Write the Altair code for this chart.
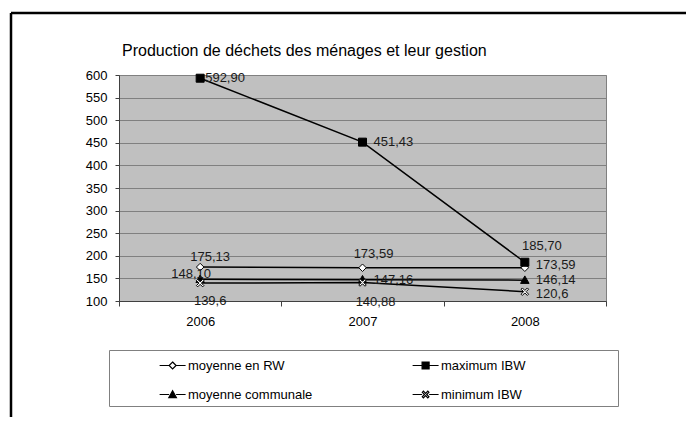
import altair as alt
import pandas as pd

# ---------------- data ----------------
annees = ["2006", "2007", "2008"]
series = ["moyenne en RW", "maximum IBW", "moyenne communale", "minimum IBW"]
moyenne_rw = [175.13, 173.59, 173.59]
maximum_ibw = [592.90, 451.43, 185.70]
moyenne_communale = [148.10, 147.16, 146.14]
minimum_ibw = [139.6, 140.88, 120.6]
etiq_rw = ["175,13", "173,59", "173,59"]
etiq_max = ["592,90", "451,43", "185,70"]
etiq_comm = ["148,10", "147,16", "146,14"]
etiq_min = ["139,6", "140,88", "120,6"]
graduations_y = [100, 150, 200, 250, 300, 350, 400, 450, 500, 550, 600]
titre = "Production de déchets des ménages et leur gestion"

# legend order (filled column by column)
ordre_legende = ["moyenne en RW", "moyenne communale", "maximum IBW", "minimum IBW"]

# ---------------- label placement (style) ----------------
pos_rw = ["h1", "h2", "du"]
pos_max = ["d5", "d", "h3"]
pos_comm = ["g", "d", "dm"]
pos_min = ["b1", "b2", "dd"]
placements = {
    "d": (11, 0, "left"),
    "du": (11, -3, "left"),
    "dm": (11, -0.5, "left"),
    "dd": (11, 2, "left"),
    "d5": (5, 0, "left"),
    "h1": (10, -10, "center"),
    "h2": (11, -14, "center"),
    "h3": (17, -16, "center"),
    "g": (-9, -5, "center"),
    "b1": (10, 18, "center"),
    "b2": (13, 19, "center"),
}

valeurs = dict(zip(series, [moyenne_rw, maximum_ibw, moyenne_communale, minimum_ibw]))
etiquettes = dict(zip(series, [etiq_rw, etiq_max, etiq_comm, etiq_min]))
positions = dict(zip(series, [pos_rw, pos_max, pos_comm, pos_min]))

rows = []
for s in series:
    for i, a in enumerate(annees):
        rows.append({"serie": s, "annee": a, "valeur": valeurs[s][i],
                     "etiquette": etiquettes[s][i], "pos": positions[s][i]})
df = pd.DataFrame(rows)

FONT = "Liberation Sans"


def x_cross(a, t):
    return (f"M{-a},{-a+t}L{-a+t},{-a}L0,{-t}L{a-t},{-a}L{a},{-a+t}L{t},0"
            f"L{a},{a-t}L{a-t},{a}L0,{t}L{-a+t},{a}L{-a},{a-t}L{-t},0Z")


# marker shapes (chart)
marker_path = {
    "moyenne en RW": "M0,-0.75L0.75,0L0,0.75L-0.75,0Z",
    "maximum IBW": "M-0.8,-0.8H0.8V0.8H-0.8Z",
    "moyenne communale": "M0,-0.85L0.85,0.65L-0.85,0.65Z",
    "minimum IBW": x_cross(0.75, 0.25),
}
marker_fill = {"moyenne en RW": "white", "maximum IBW": "black",
               "moyenne communale": "black", "minimum IBW": "white"}

# legend symbols: line + marker, plus invisible layout extents (units of 10 px)
ext = "M-5.81,0M18.55,0"
L = 1.3
m = 0.35
legend_path = {
    "moyenne en RW": ext + f"M{-L},0H{-m}M{m},0H{L}M0,{-m}L{m},0L0,{m}L{-m},0Z",
    "maximum IBW": ext + f"M{-L},0H{-m}M{m},0H{L}M{-m},{-m}H{m}V{m}H{-m}Z",
    "moyenne communale": ext + f"M{-L},0H{-m}M{m},0H{L}M0,-0.38L0.38,0.32L-0.38,0.32Z",
    "minimum IBW": ext + f"M{-L},0H{-m}M{m},0H{L}" + x_cross(0.33, 0.11),
}

x_enc = alt.X(
    "annee:N", bandPosition=0.5,
    scale=alt.Scale(type="band", domain=annees, paddingInner=0, paddingOuter=0),
    axis=alt.Axis(title=None, labelAngle=0, tickBand="extent", tickSize=5,
                  labelPadding=9, labelFontSize=13, labelFont=FONT,
                  labelColor="black", domainColor="#404040", tickColor="#404040",
                  grid=False),
)
y_enc = alt.Y(
    "valeur:Q",
    scale=alt.Scale(domain=[100, 600], nice=False, zero=False),
    axis=alt.Axis(title=None, values=graduations_y, grid=True, gridColor="#808080",
                  gridWidth=1, tickSize=4, labelPadding=8, labelFontSize=13,
                  labelFont=FONT, labelColor="black", domainColor="#404040",
                  tickColor="#404040"),
)

base = alt.Chart(df)

frame_top = alt.Chart(alt.Data(values=[{"k": 1}])).mark_rule(
    color="black", strokeWidth=2.5).encode(
    x=alt.value(-108), x2=alt.value(600), y=alt.value(-62))
frame_left = alt.Chart(alt.Data(values=[{"k": 1}])).mark_rule(
    color="black", strokeWidth=2.5).encode(
    x=alt.value(-108), y=alt.value(-62), y2=alt.value(360))

lines = base.mark_line(color="black", strokeWidth=1.5).encode(
    x=x_enc, y=y_enc, detail="serie:N")

points = base.mark_point(size=100, stroke="black", strokeWidth=1, opacity=1).encode(
    x=x_enc, y=y_enc,
    shape=alt.Shape("serie:N", scale=alt.Scale(
        domain=ordre_legende, range=[marker_path[s] for s in ordre_legende]), legend=None),
    fill=alt.Fill("serie:N", scale=alt.Scale(
        domain=ordre_legende, range=[marker_fill[s] for s in ordre_legende]), legend=None),
)

leg = alt.Legend(
    title=None, orient="none", legendX=-10, legendY=275, columns=2,
    columnPadding=4, rowPadding=11, padding=4.5, strokeColor="#808080",
    fillColor="white", symbolSize=400, symbolStrokeWidth=1.2,
    symbolStrokeColor="black", symbolOpacity=1, symbolOffset=48.1,
    labelFont=FONT, labelFontSize=13, labelColor="black", labelOffset=4.4,
    gridAlign="all", labelLimit=300,
)
legend_layer = base.transform_filter("false").mark_point(
    size=400, strokeWidth=1.2, opacity=1).encode(
    x=x_enc, y=y_enc,
    shape=alt.Shape("serie:N", scale=alt.Scale(
        domain=ordre_legende, range=[legend_path[s] for s in ordre_legende]), legend=leg),
    fill=alt.Fill("serie:N", scale=alt.Scale(
        domain=ordre_legende, range=[marker_fill[s] for s in ordre_legende]), legend=leg),
    stroke=alt.Stroke("serie:N", scale=alt.Scale(
        domain=ordre_legende, range=["black"] * 4), legend=leg),
)

texts = []
for key, (dx, dy, al) in placements.items():
    texts.append(
        base.transform_filter(alt.datum.pos == key).mark_text(
            dx=dx, dy=dy, align=al, baseline="middle", font=FONT, fontSize=13,
            color="#1a1a1a").encode(x=x_enc, y=y_enc, text="etiquette:N")
    )

chart = alt.layer(frame_top, frame_left, lines, points, *texts, legend_layer).resolve_scale(
    shape="independent", fill="independent", stroke="independent"
).properties(
    width=487, height=226,
    autosize=alt.AutoSizeParams(type="none"),
    padding={"left": 111, "top": 67, "right": 80, "bottom": 116},
    title=alt.TitleParams(text=titre, anchor="start", frame="group", dx=3, offset=-60,
                          font=FONT, fontSize=16, fontWeight="normal", color="black",
                          baseline="alphabetic"),
    background="white",
).configure_view(fill="#c0c0c0", stroke="#808080", strokeWidth=1)

chart.save("out.html", embed_options={"renderer": "svg", "actions": False})
